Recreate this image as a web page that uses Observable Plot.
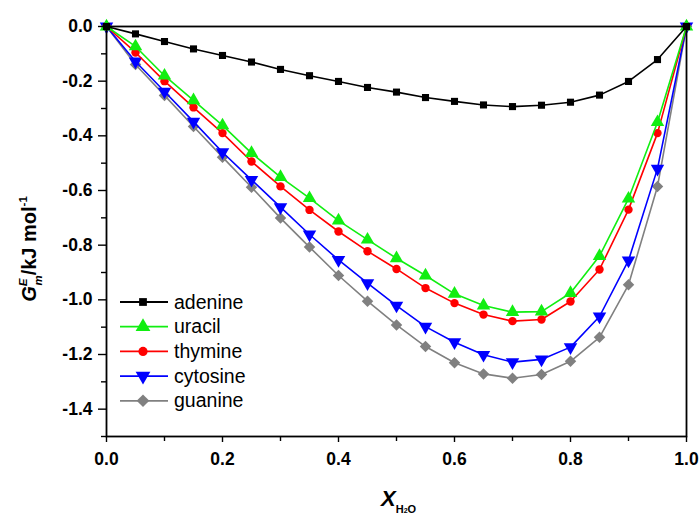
<!DOCTYPE html>
<html><head><meta charset="utf-8">
<script src="https://cdn.jsdelivr.net/npm/d3@7"></script>
<script src="https://cdn.jsdelivr.net/npm/@observablehq/plot@0.6"></script>
<style>
body{margin:0;background:#fff;font-family:"Liberation Sans",Arial,sans-serif}
#chart{position:relative;width:699px;height:517px}
</style>
</head><body><div id="chart"></div>
<script>
const xValues = [0,0.05,0.1,0.15,0.2,0.25,0.3,0.35,0.4,0.45,0.5,0.55,0.6,0.65,0.7,0.75,0.8,0.85,0.9,0.95,1.0];
const adenine  = [0,-0.027,-0.055,-0.082,-0.106,-0.130,-0.157,-0.180,-0.201,-0.223,-0.240,-0.260,-0.274,-0.287,-0.293,-0.288,-0.277,-0.251,-0.201,-0.121,0];
const uracil   = [0,-0.073,-0.180,-0.270,-0.362,-0.463,-0.551,-0.628,-0.710,-0.780,-0.848,-0.911,-0.978,-1.021,-1.045,-1.043,-0.975,-0.840,-0.630,-0.350,0];
const thymine  = [0,-0.095,-0.200,-0.296,-0.390,-0.494,-0.585,-0.671,-0.750,-0.822,-0.887,-0.957,-1.012,-1.054,-1.078,-1.072,-1.006,-0.889,-0.670,-0.390,0];
const cytosine = [0,-0.128,-0.238,-0.348,-0.460,-0.561,-0.661,-0.761,-0.854,-0.939,-1.021,-1.098,-1.155,-1.201,-1.228,-1.218,-1.173,-1.061,-0.856,-0.520,0];
const guanine  = [0,-0.139,-0.252,-0.366,-0.478,-0.588,-0.701,-0.807,-0.911,-1.005,-1.092,-1.171,-1.230,-1.271,-1.287,-1.273,-1.225,-1.137,-0.945,-0.585,0];
const seriesNames = ["adenine","uracil","thymine","cytosine","guanine"];
const seriesColors = ["#000000","#11ee11","#ff0000","#0000ff","#808080"];
const xMajor = [0,0.2,0.4,0.6,0.8,1.0];
const xMinor = [0.1,0.3,0.5,0.7,0.9];
const yMajor = [0,-0.2,-0.4,-0.6,-0.8,-1.0,-1.2,-1.4];
const yMinor = [-0.1,-0.3,-0.5,-0.7,-0.9,-1.1,-1.3,-1.5];

const triDown = {draw(ctx,size){
  d3.symbolTriangle.draw({moveTo:(x,y)=>ctx.moveTo(x,-y),lineTo:(x,y)=>ctx.lineTo(x,-y),closePath:()=>ctx.closePath()},size);
}};
const diamond = {draw(ctx,size){
  const r = Math.sqrt(size/2);
  ctx.moveTo(0,-r);ctx.lineTo(r,0);ctx.lineTo(0,r);ctx.lineTo(-r,0);ctx.closePath();
}};
const seriesSymbols = [d3.symbolSquare, d3.symbolTriangle, d3.symbolCircle, triDown, diamond];
const seriesR = [4, 5, 4.2, 5, 4.6];
const allValues = [adenine, uracil, thymine, cytosine, guanine];

const marks = [];
for (let k = allValues.length - 1; k >= 0; k--) {
  const d = xValues.map((x,i)=>({x, y: allValues[k][i]}));
  marks.push(Plot.line(d, {x:"x", y:"y", stroke: seriesColors[k], strokeWidth: 1.6}));
  marks.push(Plot.dot(d, {x:"x", y:"y", fill: seriesColors[k], stroke: "none", symbol: seriesSymbols[k], r: seriesR[k]}));
}

const plot = Plot.plot({
  width: 699, height: 517,
  marginLeft: 106, marginRight: 13, marginTop: 26, marginBottom: 81,
  style: {fontFamily: '"Liberation Sans", Arial, sans-serif', background: "#fff"},
  x: {domain: [0,1]},
  y: {domain: [-1.5,0]},
  marks: [
    ...marks,
    Plot.axisX(xMajor, {tickSize: 6, tickPadding: 10, tickFormat: d => d.toFixed(1), fontSize: 17.5, fontWeight: "bold", strokeWidth: 1.4, label: null}),
    Plot.axisX(xMinor, {tickSize: 5, text: null, strokeWidth: 1.4, label: null}),
    Plot.axisY(yMajor, {tickSize: 8, tickPadding: 6, tickFormat: d => d.toFixed(1), fontSize: 17.5, fontWeight: "bold", strokeWidth: 1.4, label: null}),
    Plot.axisY(yMinor, {tickSize: 5, text: null, strokeWidth: 1.4, label: null}),
    Plot.frame({stroke: "#000", strokeWidth: 1.8})
  ]
});
document.getElementById("chart").appendChild(plot);

const svg = d3.select(plot);
// Y axis label
const yl = svg.append("text")
  .attr("transform", "translate(36,249) rotate(-90)")
  .attr("text-anchor", "middle")
  .attr("font-size", 20).attr("font-weight", "bold").attr("fill", "#000");
yl.append("tspan").attr("font-style","italic").text("G");
yl.append("tspan").attr("font-size",11.5).attr("dy",-9).attr("font-style","italic").text("E");
yl.append("tspan").attr("font-size",11.5).attr("dy",15).attr("dx",-7).attr("font-style","italic").text("m");
yl.append("tspan").attr("dy",-6).text("/kJ mol");
yl.append("tspan").attr("font-size",11.5).attr("dy",-9).text("-1");

// X axis label
const xl = svg.append("text")
  .attr("x", 381).attr("y", 506).attr("text-anchor", "start")
  .attr("font-size", 22).attr("font-weight", "bold").attr("fill", "#000");
xl.append("tspan").attr("font-style","italic").text("X");
xl.append("tspan").attr("font-size",11).attr("dy",7).text("H");
xl.append("tspan").attr("font-size",7).attr("dy",0).text("2");
xl.append("tspan").attr("font-size",11).attr("dy",0).text("O");

// Legend
const lg = svg.append("g");
seriesNames.forEach((name,k)=>{
  const y = 302 + k*24.7;
  lg.append("line").attr("x1",120).attr("x2",168).attr("y1",y).attr("y2",y)
    .attr("stroke",seriesColors[k]).attr("stroke-width",1.8);
  lg.append("path").attr("transform",`translate(143,${y})`)
    .attr("d", d3.symbol(seriesSymbols[k], Math.PI*seriesR[k]*seriesR[k]*1.2)())
    .attr("fill", seriesColors[k]);
  lg.append("text").attr("x",174).attr("y",y+6.5).attr("font-size",19.5)
    .attr("text-anchor","start").attr("fill","#000").text(name);
});
</script>
</body></html>
